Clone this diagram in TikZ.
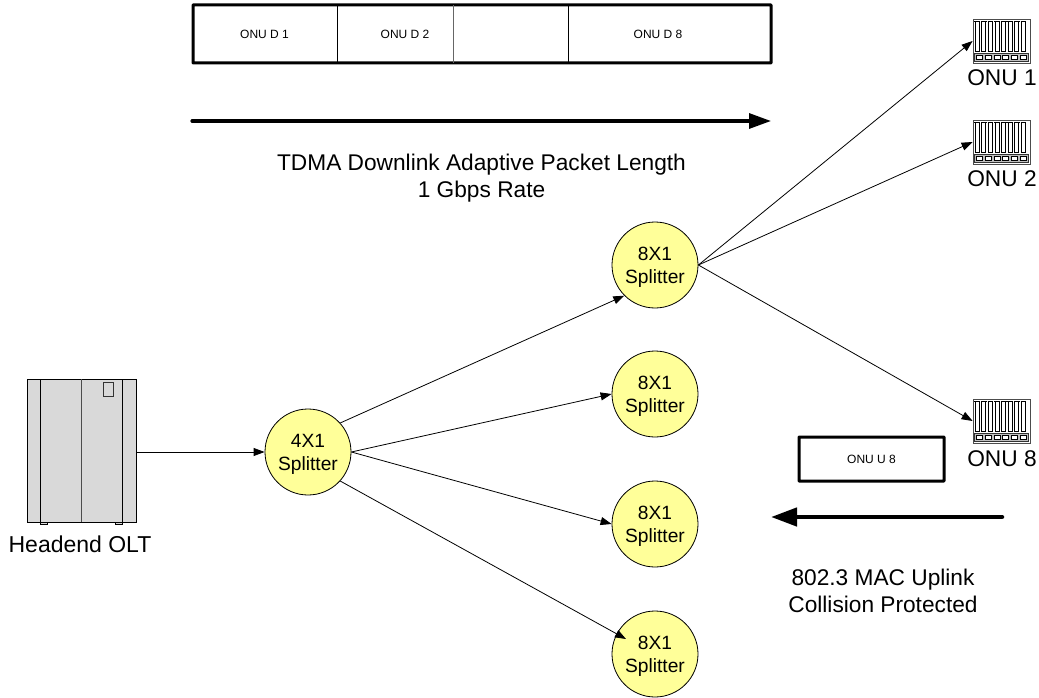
\documentclass[tikz,border=0pt]{standalone}
\usepackage{fontspec}
\setmainfont{Liberation Sans}
\usetikzlibrary{arrows.meta}
\definecolor{splitfill}{HTML}{FFFF99}
\definecolor{olt}{HTML}{D9D9D9}
\tikzset{
  big/.style={font=\fontsize{22.7}{27}\selectfont},
  small/.style={font=\fontsize{12}{14}\selectfont},
  splitter/.style={circle,draw=black,line width=0.8pt,fill=splitfill,minimum size=86pt,inner sep=0pt,align=center,text depth=0pt,font=\fontsize{19.2}{23}\selectfont},
  onubox/.style={rectangle,draw=black!70,line width=0.8pt,fill=white,minimum width=57pt,minimum height=44pt,inner sep=0pt},
  packet/.style={rectangle,draw=black,line width=3pt,fill=white,inner sep=0pt,rounded corners=0.5pt},
  link/.style={line width=0.8pt,-{Triangle[length=11pt,width=8pt]},shorten <=0pt},
}
\newcommand{\onudetail}[1]{%
  \begin{scope}[shift={(#1.north west)}]
    \foreach \i in {0,...,7}{
      \draw[black,line width=0.7pt] ({2.5+\i*6.6},3) -- ({2.5+\i*6.6},33) -- ({6.6+\i*6.6},33) -- ({6.6+\i*6.6},3);
      \draw[black,line width=1.5pt] ({1.8+\i*6.6},3) -- ({7.6+\i*6.6},3);
    }
    \fill[black!25] (1.5,35) rectangle (55.5,42.5);
    \draw[black!80,line width=0.6pt] (1.5,35) rectangle (55.5,42.5);
    \foreach \i in {0,...,5}{
      \draw[black,line width=0.7pt,fill=white] ({3.5+\i*8.9},36.8) rectangle ({9.5+\i*8.9},40.8);
    }
  \end{scope}}
\begin{document}
\begin{tikzpicture}[x=1pt,y=-1pt]
\useasboundingbox (0,0) rectangle (1039,698);
% packet strip
\node[packet,minimum width=578pt,minimum height=58pt] (strip) at (482,34) {};
\node[small] (d1) at (264.5,34) {ONU D 1};
\node[small] (d2) at (405,34) {ONU D 2};
\node[small] (d8) at (658,34) {ONU D 8};
\coordinate (s1t) at (337,5); \coordinate (s1b) at (337,63);
\coordinate (s2t) at (453,5); \coordinate (s2b) at (453,63);
\coordinate (s3t) at (568,5); \coordinate (s3b) at (568,63);
\draw[line width=0.9pt] (s1t) -- (s1b);
\draw[line width=0.9pt,black!60] (s2t) -- (s2b);
\draw[line width=0.9pt] (s3t) -- (s3b);
% downlink arrow
\coordinate (dlA) at (192,121); \coordinate (dlB) at (771,121);
\draw[line width=3.2pt,line cap=round,-{Triangle[length=22pt,width=15pt]}] (dlA) -- (dlB);
\node[big,align=center] (dltext) at (481.5,178.5) {TDMA Downlink Adaptive Packet Length\\1 Gbps Rate};
% OLT
\node[rectangle,draw=black,line width=1pt,fill=olt,minimum width=109pt,minimum height=143pt,inner sep=0pt] (head) at (81.5,450.5) {};
\draw[line width=1pt,fill=olt] (40,522) rectangle (47,524.5);
\draw[line width=1pt,fill=olt] (115,522) rectangle (122,524.5);
\draw[line width=1pt] (40,379) -- (40,522);
\draw[line width=1pt,black!70] (81,379) -- (81,522);
\draw[line width=1pt] (122,379) -- (122,522);
\draw[line width=0.8pt,black!80] (103,382) rectangle (113,396);
\node[font=\fontsize{23}{27}\selectfont] (headlabel) at (80,544) {Headend OLT};
% splitters
\node[splitter] (a) at (308,452) {4X1\\Splitter};
\node[splitter] (b1) at (655,265) {8X1\\Splitter};
\node[splitter] (b2) at (655,394) {8X1\\Splitter};
\node[splitter] (b3) at (655,524) {8X1\\Splitter};
\node[splitter] (b4) at (655,654) {8X1\\Splitter};
% ONUs
\node[onubox] (o1) at (1001.5,41) {}; \onudetail{o1}
\node[onubox] (o2) at (1001.5,142) {}; \onudetail{o2}
\node[onubox] (o8) at (1001.5,421) {}; \onudetail{o8}
\node[big] (l1) at (1002,78) {ONU 1};
\node[big] (l2) at (1002,179) {ONU 2};
\node[big] (l8) at (1002,459) {ONU 8};
% uplink
\node[packet,minimum width=145pt,minimum height=44pt] (up) at (871.5,459) {};
\node[small] (uplabel) at (871.5,459) {ONU U 8};
\coordinate (ulA) at (1002,517); \coordinate (ulB) at (771,517);
\draw[line width=4.5pt,line cap=round,-{Triangle[length=26pt,width=18pt]}] (ulA) -- (ulB);
\node[big,align=center] (ultext) at (883,591) {802.3 MAC Uplink\\Collision Protected};
% connectors
\coordinate (b4tip) at (626,639);
\draw[link] (head.east |- a.west) -- (a.west);
\draw[link] (a.42) -- (b1.225);
\draw[link] (a.east) -- (b2.west);
\draw[link] (a.east) -- (b3.west);
\draw[link] (a.-42) -- (b4tip);
\draw[link] (b1.east) -- (o1.west);
\draw[link] (b1.east) -- (o2.west);
\draw[link] (b1.east) -- (o8.west);
\end{tikzpicture}
\end{document}
